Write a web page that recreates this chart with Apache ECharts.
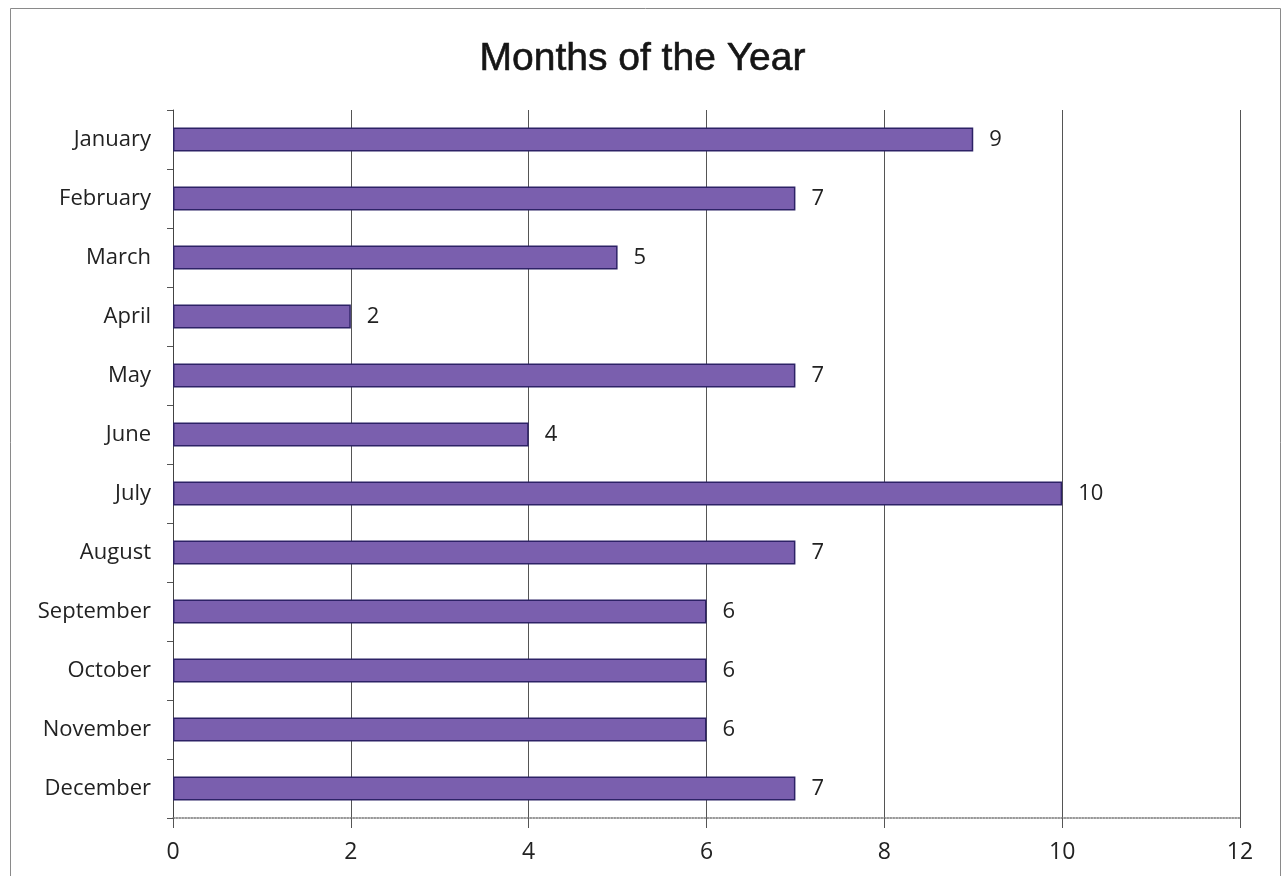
<!DOCTYPE html>
<html>
<head>
<meta charset="utf-8">
<script src="https://cdn.jsdelivr.net/npm/echarts@6/dist/echarts.min.js"></script>
<style>
  html, body { margin: 0; padding: 0; background: #ffffff; }
  #chart { width: 1285px; height: 876px; }
</style>
</head>
<body>
<div id="chart"></div>
<script>
// Monthly counts shown as horizontal bars
const months = ['January', 'February', 'March', 'April', 'May', 'June',
  'July', 'August', 'September', 'October', 'November', 'December'];
const counts = [9, 7, 5, 2, 7, 4, 10, 7, 6, 6, 6, 7];
const xTicks = [0, 2, 4, 6, 8, 10, 12];

const chart = echarts.init(document.getElementById('chart'));
const titleFont = 'Liberation Sans, Arial, sans-serif';
const font = 'Open Sans, Liberation Sans, sans-serif';

chart.setOption({
  backgroundColor: '#ffffff',
  animation: false,
  title: {
    text: 'Months of the Year',
    left: 'center',
    top: 35,
    textStyle: {
      fontFamily: titleFont, fontSize: 39, fontWeight: 'normal', color: '#151515',
      textBorderColor: '#151515', textBorderWidth: 0.6
    }
  },
  graphic: [{
    type: 'rect',
    shape: { x: 10.5, y: 8.5, width: 1270, height: 880 },
    style: { fill: 'none', stroke: '#8a8a8a', lineWidth: 1 },
    silent: true
  }],
  grid: { left: 173, right: 45, top: 110, bottom: 58 },
  xAxis: {
    type: 'value',
    min: xTicks[0],
    max: xTicks[xTicks.length - 1],
    interval: 2,
    axisLine: { show: true, lineStyle: { color: '#777', type: 'dotted', width: 1.5 } },
    axisTick: { show: true, length: 10, lineStyle: { color: '#555' } },
    axisLabel: { fontFamily: font, fontSize: 23, color: '#222', margin: 23 },
    splitLine: { show: true, lineStyle: { color: '#555', width: 1 } }
  },
  yAxis: {
    type: 'category',
    data: months,
    inverse: true,
    axisLine: { show: true, lineStyle: { color: '#444', width: 1 } },
    axisTick: { show: true, length: 6, inside: false, lineStyle: { color: '#555' } },
    axisLabel: { fontFamily: font, fontSize: 22, color: '#222', margin: 22, padding: [4, 0, 0, 0] }
  },
  series: [{
    type: 'bar',
    data: counts,
    barWidth: 24,
    itemStyle: { color: '#7a5fae', borderColor: '#2d2266', borderWidth: 1.5 },
    label: {
      show: true,
      position: 'right',
      distance: 16,
      fontFamily: font,
      fontSize: 22,
      color: '#222',
      padding: [4, 0, 0, 0]
    }
  }]
});
</script>
</body>
</html>
